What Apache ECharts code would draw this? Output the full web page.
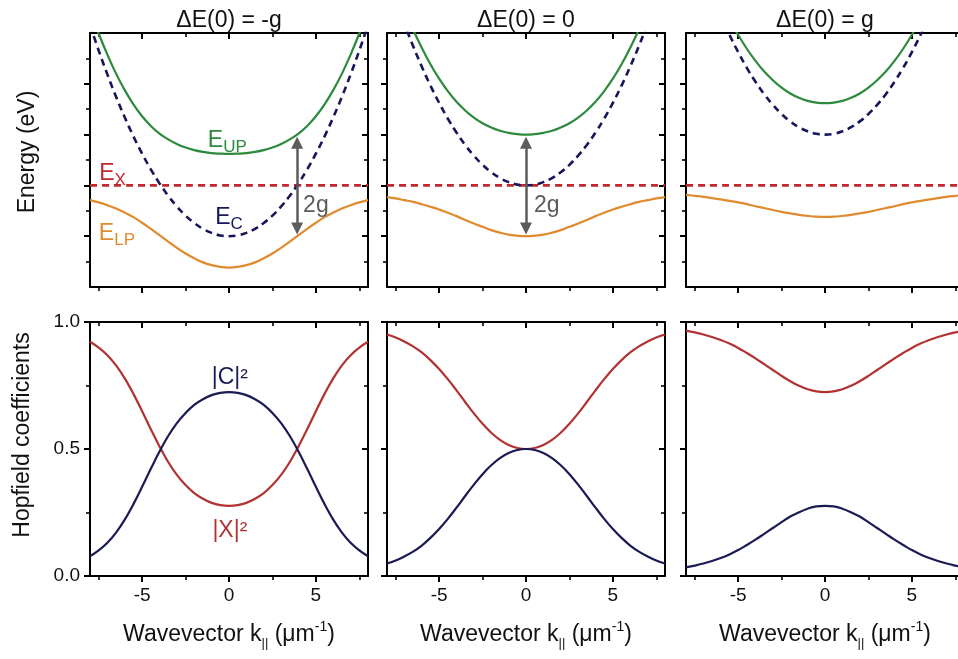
<!DOCTYPE html>
<html><head><meta charset="utf-8">
<script src="https://cdn.jsdelivr.net/npm/echarts@6/dist/echarts.min.js"></script>
<style>html,body{margin:0;padding:0;background:#fff}#c{width:958px;height:659px}</style>
</head><body><div id="c"></div>
<script>
// ---------- data ----------
const kValues = [-8,-7.5,-7,-6.5,-6,-5.5,-5,-4.5,-4,-3.5,-3,-2.5,-2,-1.5,-1,-0.5,0,
                 0.5,1,1.5,2,2.5,3,3.5,4,4.5,5,5.5,6,6.5,7,7.5,8];
const panelTitles = ['ΔE(0) = -g', 'ΔE(0) = 0', 'ΔE(0) = g'];
const xMajorTicks = [-5, 0, 5];
const xMinorTicks = [-7.5, -2.5, 2.5, 7.5];
const energyMajorTicks = [2, 4, 6, 8];
const energyMinorTicks = [1, 3, 5, 7, 9];
const hopfieldMajorTicks = [0, 0.5, 1];
const hopfieldMinorTicks = [0.25, 0.75];

const excitonEnergy = [4,4,4,4,4,4,4,4,4,4,4,4,4,4,4,4,4,4,4,4,4,4,4,4,4,4,4,4,4,4,4,4,4];

const cavityNeg = [10.32, 9.31, 8.37, 7.49, 6.68, 5.93, 5.25, 4.63, 4.08, 3.59, 3.17, 2.81, 2.52, 2.29, 2.13, 2.03, 2.00,
                   2.03, 2.13, 2.29, 2.52, 2.81, 3.17, 3.59, 4.08, 4.63, 5.25, 5.93, 6.68, 7.49, 8.37, 9.31, 10.32];
const upperNeg  = [10.90, 9.98, 9.15, 8.40, 7.75, 7.19, 6.72, 6.34, 6.04, 5.81, 5.63, 5.49, 5.39, 5.32, 5.27, 5.25, 5.24,
                   5.25, 5.27, 5.32, 5.39, 5.49, 5.63, 5.81, 6.04, 6.34, 6.72, 7.19, 7.75, 8.40, 9.15, 9.98, 10.90];
const lowerNeg  = [3.42, 3.33, 3.22, 3.09, 2.93, 2.75, 2.53, 2.29, 2.04, 1.79, 1.54, 1.32, 1.13, 0.97, 0.86, 0.79, 0.76,
                   0.79, 0.86, 0.97, 1.13, 1.32, 1.54, 1.79, 2.04, 2.29, 2.53, 2.75, 2.93, 3.09, 3.22, 3.33, 3.42];

const cavityZero = [12.32, 11.31, 10.37, 9.49, 8.68, 7.93, 7.25, 6.63, 6.08, 5.59, 5.17, 4.81, 4.52, 4.29, 4.13, 4.03, 4.00,
                    4.03, 4.13, 4.29, 4.52, 4.81, 5.17, 5.59, 6.08, 6.63, 7.25, 7.93, 8.68, 9.49, 10.37, 11.31, 12.32];
const upperZero  = [12.78, 11.82, 10.95, 10.14, 9.42, 8.77, 8.20, 7.71, 7.29, 6.95, 6.67, 6.45, 6.28, 6.15, 6.07, 6.02, 6.00,
                    6.02, 6.07, 6.15, 6.28, 6.45, 6.67, 6.95, 7.29, 7.71, 8.20, 8.77, 9.42, 10.14, 10.95, 11.82, 12.78];
const lowerZero  = [3.54, 3.49, 3.42, 3.35, 3.26, 3.16, 3.05, 2.92, 2.79, 2.64, 2.50, 2.37, 2.24, 2.14, 2.06, 2.02, 2.00,
                    2.02, 2.06, 2.14, 2.24, 2.37, 2.50, 2.64, 2.79, 2.92, 3.05, 3.16, 3.26, 3.35, 3.42, 3.49, 3.54];

const cavityPos = [14.32, 13.31, 12.37, 11.49, 10.68, 9.93, 9.25, 8.63, 8.08, 7.59, 7.17, 6.81, 6.52, 6.29, 6.13, 6.03, 6.00,
                   6.03, 6.13, 6.29, 6.52, 6.81, 7.17, 7.59, 8.08, 8.63, 9.25, 9.93, 10.68, 11.49, 12.37, 13.31, 14.32];
const upperPos  = [14.69, 13.72, 12.82, 11.99, 11.23, 10.54, 9.93, 9.38, 8.90, 8.48, 8.14, 7.85, 7.62, 7.45, 7.33, 7.26, 7.24,
                   7.26, 7.33, 7.45, 7.62, 7.85, 8.14, 8.48, 8.90, 9.38, 9.93, 10.54, 11.23, 11.99, 12.82, 13.72, 14.69];
const lowerPos  = [3.63, 3.59, 3.55, 3.50, 3.45, 3.39, 3.33, 3.26, 3.18, 3.11, 3.03, 2.96, 2.90, 2.84, 2.80, 2.77, 2.76,
                   2.77, 2.80, 2.84, 2.90, 2.96, 3.03, 3.11, 3.18, 3.26, 3.33, 3.39, 3.45, 3.50, 3.55, 3.59, 3.63];

const photonNeg   = [0.078, 0.101, 0.131, 0.171, 0.222, 0.283, 0.351, 0.422, 0.490, 0.551, 0.602, 0.642, 0.674, 0.696, 0.712, 0.721, 0.724,
                     0.721, 0.712, 0.696, 0.674, 0.642, 0.602, 0.551, 0.490, 0.422, 0.351, 0.283, 0.222, 0.171, 0.131, 0.101, 0.078];
const excitonNeg  = [0.922, 0.899, 0.869, 0.829, 0.778, 0.717, 0.649, 0.578, 0.510, 0.449, 0.398, 0.358, 0.326, 0.304, 0.288, 0.279, 0.276,
                     0.279, 0.288, 0.304, 0.326, 0.358, 0.398, 0.449, 0.510, 0.578, 0.649, 0.717, 0.778, 0.829, 0.869, 0.899, 0.922];
const photonZero  = [0.049, 0.061, 0.077, 0.096, 0.120, 0.150, 0.185, 0.225, 0.269, 0.315, 0.360, 0.401, 0.436, 0.464, 0.484, 0.496, 0.500,
                     0.496, 0.484, 0.464, 0.436, 0.401, 0.360, 0.315, 0.269, 0.225, 0.185, 0.150, 0.120, 0.096, 0.077, 0.061, 0.049];
const excitonZero = [0.951, 0.939, 0.923, 0.904, 0.880, 0.850, 0.815, 0.775, 0.731, 0.685, 0.640, 0.599, 0.564, 0.536, 0.516, 0.504, 0.500,
                     0.504, 0.516, 0.536, 0.564, 0.599, 0.640, 0.685, 0.731, 0.775, 0.815, 0.850, 0.880, 0.904, 0.923, 0.939, 0.951];
const photonPos   = [0.034, 0.041, 0.049, 0.059, 0.071, 0.085, 0.102, 0.122, 0.143, 0.166, 0.189, 0.212, 0.234, 0.251, 0.265, 0.274, 0.276,
                     0.274, 0.265, 0.251, 0.234, 0.212, 0.189, 0.166, 0.143, 0.122, 0.102, 0.085, 0.071, 0.059, 0.049, 0.041, 0.034];
const excitonPos  = [0.966, 0.959, 0.951, 0.941, 0.929, 0.915, 0.898, 0.878, 0.857, 0.834, 0.811, 0.788, 0.767, 0.749, 0.735, 0.727, 0.724,
                     0.727, 0.735, 0.749, 0.767, 0.788, 0.811, 0.834, 0.857, 0.878, 0.898, 0.915, 0.929, 0.941, 0.951, 0.959, 0.966];

// 2g splitting arrows (panels 1 and 2)
const arrowK = [3.92, 0];
const arrowTop = [5.68, 5.68];
const arrowBottom = [2.3, 2.3];

// ---------- style ----------
const FONT = '"Liberation Sans", Arial, Helvetica, sans-serif';
const C_UP = '#2c8a3c', C_LP = '#e08a2e', C_CAV = '#16165a', C_EX = '#c0282e';
const C_HX = '#b23232', C_HC = '#1a1a55', C_GRAY = '#5c5c5c';

const topPanels = [
  {cav: cavityNeg, up: upperNeg, lp: lowerNeg},
  {cav: cavityZero, up: upperZero, lp: lowerZero},
  {cav: cavityPos, up: upperPos, lp: lowerPos}
];
const bottomPanels = [
  {c: photonNeg, x: excitonNeg},
  {c: photonZero, x: excitonZero},
  {c: photonPos, x: excitonPos}
];

const lefts = [90, 387, 686];
const tops = [33, 322];
const W = 278, H = 254;

const grids = [];
for (let r = 0; r < 2; r++) for (let c = 0; c < 3; c++)
  grids.push({left: lefts[c], top: tops[r], width: W, height: H, containLabel: false, outerBoundsMode: 'none'});

const xNameRich = {
  n: {fontSize: 23, fontFamily: FONT, color: '#111', lineHeight: 30},
  sub: {fontSize: 13, fontFamily: FONT, color: '#111', lineHeight: 8, verticalAlign: 'bottom'},
  sup: {fontSize: 14, fontFamily: FONT, color: '#111', lineHeight: 14, verticalAlign: 'top'}
};

function xAxis(g, pos, major, showLabel, withName) {
  const vals = major ? xMajorTicks : xMinorTicks;
  const a = {
    type: 'value', gridIndex: g, min: -8, max: 8, position: pos,
    axisLine: {show: major, onZero: false, lineStyle: {color: '#000', width: 2}},
    axisTick: {show: true, inside: pos === 'top', length: major ? 6 : 4, customValues: vals,
               lineStyle: {color: '#000', width: major ? 2 : 1.6}},
    axisLabel: {show: showLabel, customValues: vals, fontSize: 19, fontFamily: FONT, color: '#111', margin: 10},
    splitLine: {show: false}
  };
  if (withName) {
    a.name = '{n|Wavevector k}{sub|||}{n| (μm}{sup|-1}{n|)}';
    a.nameLocation = 'middle';
    a.nameGap = 44;
    a.nameTextStyle = {rich: xNameRich};
  }
  return a;
}
function yAxis(g, pos, major, isEnergy, showLabel) {
  const vals = isEnergy ? (major ? energyMajorTicks : energyMinorTicks)
                        : (major ? hopfieldMajorTicks : hopfieldMinorTicks);
  return {
    type: 'value', gridIndex: g, min: 0, max: isEnergy ? 10 : 1, position: pos,
    axisLine: {show: major, onZero: false, lineStyle: {color: '#000', width: 2}},
    axisTick: {show: true, inside: pos === 'right', length: major ? 6 : 4, customValues: vals,
               lineStyle: {color: '#000', width: major ? 2 : 1.6}},
    axisLabel: {show: showLabel, customValues: vals, fontSize: 19, fontFamily: FONT, color: '#111', margin: 10,
                formatter: v => v.toFixed(1)},
    splitLine: {show: false}
  };
}

const xAxes = [], yAxes = [];
for (let g = 0; g < 6; g++) {
  const bottomRow = g >= 3;
  xAxes.push(xAxis(g, 'bottom', true, bottomRow, bottomRow));
  xAxes.push(xAxis(g, 'bottom', false, false, false));
  xAxes.push(xAxis(g, 'top', true, false, false));
  xAxes.push(xAxis(g, 'top', false, false, false));
  yAxes.push(yAxis(g, 'left', true, !bottomRow, bottomRow && g === 3));
  yAxes.push(yAxis(g, 'left', false, !bottomRow, false));
  yAxes.push(yAxis(g, 'right', true, !bottomRow, false));
  yAxes.push(yAxis(g, 'right', false, !bottomRow, false));
}

function pairs(ys) { return kValues.map((k, i) => [k, ys[i]]); }
function line(g, ys, color, dashed, extra) {
  return Object.assign({
    type: 'line', xAxisIndex: 4 * g, yAxisIndex: 4 * g, data: pairs(ys),
    symbol: 'none', showSymbol: false, smooth: 0.4, clip: true, silent: true, animation: false,
    lineStyle: {color: color, width: dashed ? 2.6 : 2.2, type: dashed ? [7, 5] : 'solid'},
    z: dashed ? 2 : 3
  }, extra || {});
}
function subLabel(main, sub, color) {
  return {
    show: true, position: 'inside', formatter: '{b|' + main + '}{s|' + sub + '}',
    rich: {
      b: {fontSize: 23, fontFamily: FONT, color: color, lineHeight: 30},
      s: {fontSize: 17, fontFamily: FONT, color: color, lineHeight: 12, verticalAlign: 'bottom'}
    }
  };
}
function plainLabel(text, color, size) {
  return {show: true, position: 'inside', formatter: text, fontSize: size || 23, fontFamily: FONT, color: color};
}
function mp(points) {
  return {silent: true, symbol: 'circle', symbolSize: 0, animation: false,
          data: points.map(p => ({coord: p.at, label: p.label, itemStyle: {color: 'transparent'}}))};
}
function arrow(i) {
  return {
    silent: true, animation: false, symbol: ['triangle', 'triangle'], symbolSize: 12,
    lineStyle: {color: C_GRAY, width: 2.5, type: 'solid'}, itemStyle: {color: C_GRAY},
    label: {show: false},
    data: [[{coord: [arrowK[i], arrowTop[i]]}, {coord: [arrowK[i], arrowBottom[i]]}]]
  };
}

const series = [];
topPanels.forEach((p, g) => {
  const exExtra = g === 0 ? {markPoint: mp([{at: [-6.7, 4.45], label: subLabel('E', 'X', C_EX)}])} : {};
  series.push(line(g, excitonEnergy, C_EX, true, exExtra));
  const cavExtra = g === 0 ? {markPoint: mp([{at: [0, 2.72], label: subLabel('E', 'C', C_CAV)}])} : {};
  series.push(line(g, p.cav, C_CAV, true, cavExtra));
  const upExtra = g === 0 ? {markPoint: mp([{at: [-0.1, 5.75], label: subLabel('E', 'UP', C_UP)}])} : {};
  series.push(line(g, p.up, C_UP, false, upExtra));
  const lpExtra = {};
  if (g === 0) {
    lpExtra.markPoint = mp([
      {at: [-6.45, 2.1], label: subLabel('E', 'LP', C_LP)},
      {at: [5.0, 3.2], label: plainLabel('2g', C_GRAY)}
    ]);
  }
  if (g === 1) {
    lpExtra.markPoint = mp([{at: [1.2, 3.2], label: plainLabel('2g', C_GRAY)}]);
  }
  if (g < 2) lpExtra.markLine = arrow(g);
  series.push(line(g, p.lp, C_LP, false, lpExtra));
});
bottomPanels.forEach((p, i) => {
  const g = i + 3;
  const cExtra = i === 0 ? {markPoint: mp([{at: [0.05, 0.78], label: plainLabel('|C|²', C_HC)}])} : {};
  const xExtra = i === 0 ? {markPoint: mp([{at: [0.05, 0.18], label: plainLabel('|X|²', C_HX)}])} : {};
  series.push(line(g, p.x, C_HX, false, xExtra));
  series.push(line(g, p.c, C_HC, false, cExtra));
});

const graphics = [];
panelTitles.forEach((t, i) => {
  graphics.push({type: 'text', x: lefts[i] + W / 2, y: 21, silent: true,
    style: {text: t, fontSize: 23, fontFamily: FONT, fill: '#111', align: 'center', verticalAlign: 'middle'}});
});
graphics.push({type: 'text', x: 28, y: 152, rotation: Math.PI / 2, silent: true,
  style: {text: 'Energy (eV)', fontSize: 23, fontFamily: FONT, fill: '#111', align: 'center', verticalAlign: 'middle'}});
graphics.push({type: 'text', x: 23, y: 435, rotation: Math.PI / 2, silent: true,
  style: {text: 'Hopfield coefficients', fontSize: 23, fontFamily: FONT, fill: '#111', align: 'center', verticalAlign: 'middle'}});

const chart = echarts.init(document.getElementById('c'), null, {renderer: 'canvas'});
chart.setOption({
  backgroundColor: '#fff',
  animation: false,
  grid: grids,
  xAxis: xAxes,
  yAxis: yAxes,
  series: series,
  graphic: graphics
});
</script></body></html>
